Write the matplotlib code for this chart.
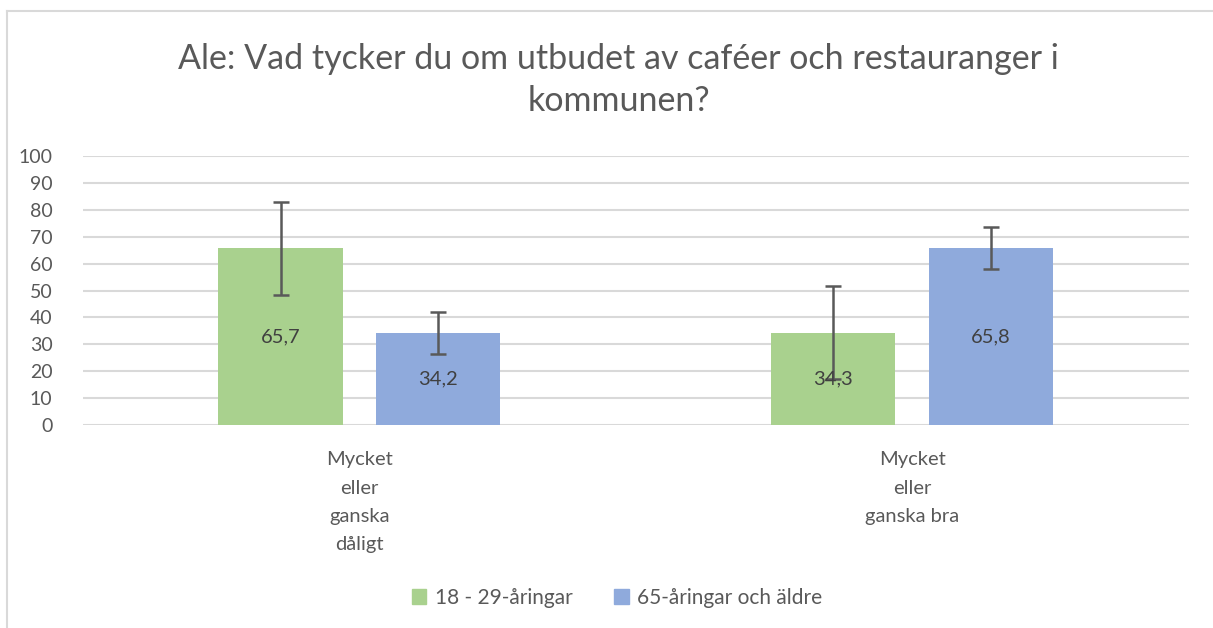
import numpy as np
import matplotlib.pyplot as plt
from matplotlib.lines import Line2D
from matplotlib.patches import Patch

plt.rcParams['font.family'] = ['Lato', 'DejaVu Sans']

# data
categories = ['Mycket\neller\nganska\ndåligt', 'Mycket\neller\nganska bra']
series = ['18 - 29-åringar', '65-åringar och äldre']
young = [65.7, 34.3]
old = [34.2, 65.8]
young_err = [17.3, 17.2]
old_err = [7.9, 7.9]
labels_young = ['65,7', '34,3']
labels_old = ['34,2', '65,8']

green = '#A9D18E'
blue = '#8FAADC'
txt = '#595959'
gridc = '#D9D9D9'

fig = plt.figure(figsize=(12.13, 6.28), dpi=100)
ax = fig.add_axes([0.0684, 0.3232, 0.9116, 0.4284])

x = np.arange(len(categories))
w = 0.2245
off = 0.1427

b1 = ax.bar(x - off, young, w, color=green, zorder=2)
b2 = ax.bar(x + off, old, w, color=blue, zorder=2)
ax.errorbar(x - off, young, yerr=young_err, fmt='none', ecolor='#595959',
            elinewidth=1.8, capsize=6, capthick=1.8, zorder=3)
ax.errorbar(x + off, old, yerr=old_err, fmt='none', ecolor='#595959',
            elinewidth=1.8, capsize=6, capthick=1.8, zorder=3)

for i in range(len(categories)):
    ax.text(x[i] - off, young[i] / 2, labels_young[i], ha='center', va='center',
            fontsize=14.5, color='#404040', zorder=4)
    ax.text(x[i] + off, old[i] / 2, labels_old[i], ha='center', va='center',
            fontsize=14.5, color='#404040', zorder=4)

ax.set_xlim(-0.5, 1.5)
ax.set_ylim(0, 100)
ax.set_yticks(range(0, 101, 10))
ax.yaxis.grid(True, color=gridc, linewidth=1.5, zorder=0)
ax.set_axisbelow(True)
for s in ax.spines.values():
    s.set_visible(False)
ax.tick_params(axis='y', length=0, pad=22, labelsize=14, labelcolor=txt)
ax.set_xticks(x)
ax.set_xticklabels(categories, fontsize=14.5, color=txt, linespacing=1.8)
ax.tick_params(axis='x', length=0, pad=19)

fig.text(0.51, 1 - 80 / 628, 'Ale: Vad tycker du om utbudet av caféer och restauranger i\nkommunen?',
         ha='center', va='center', fontsize=24.5, color=txt, linespacing=1.35)

handles = [Patch(color=green), Patch(color=blue)]
fig.legend(handles, series, loc='center', bbox_to_anchor=(617 / 1213, 1 - 598 / 628),
           ncol=2, frameon=False, fontsize=15, labelcolor=txt,
           handlelength=0.7, handleheight=0.7, handletextpad=0.4, columnspacing=2.0)

# chart frame (left and top edges visible)
fig.add_artist(Line2D([7 / 1213, 7 / 1213], [0, 1 - 11 / 628], color='#D9D9D9', lw=1.5))
fig.add_artist(Line2D([7 / 1213, 1], [1 - 11 / 628, 1 - 11 / 628], color='#D9D9D9', lw=1.5))

fig.savefig('out.png', dpi=100)
